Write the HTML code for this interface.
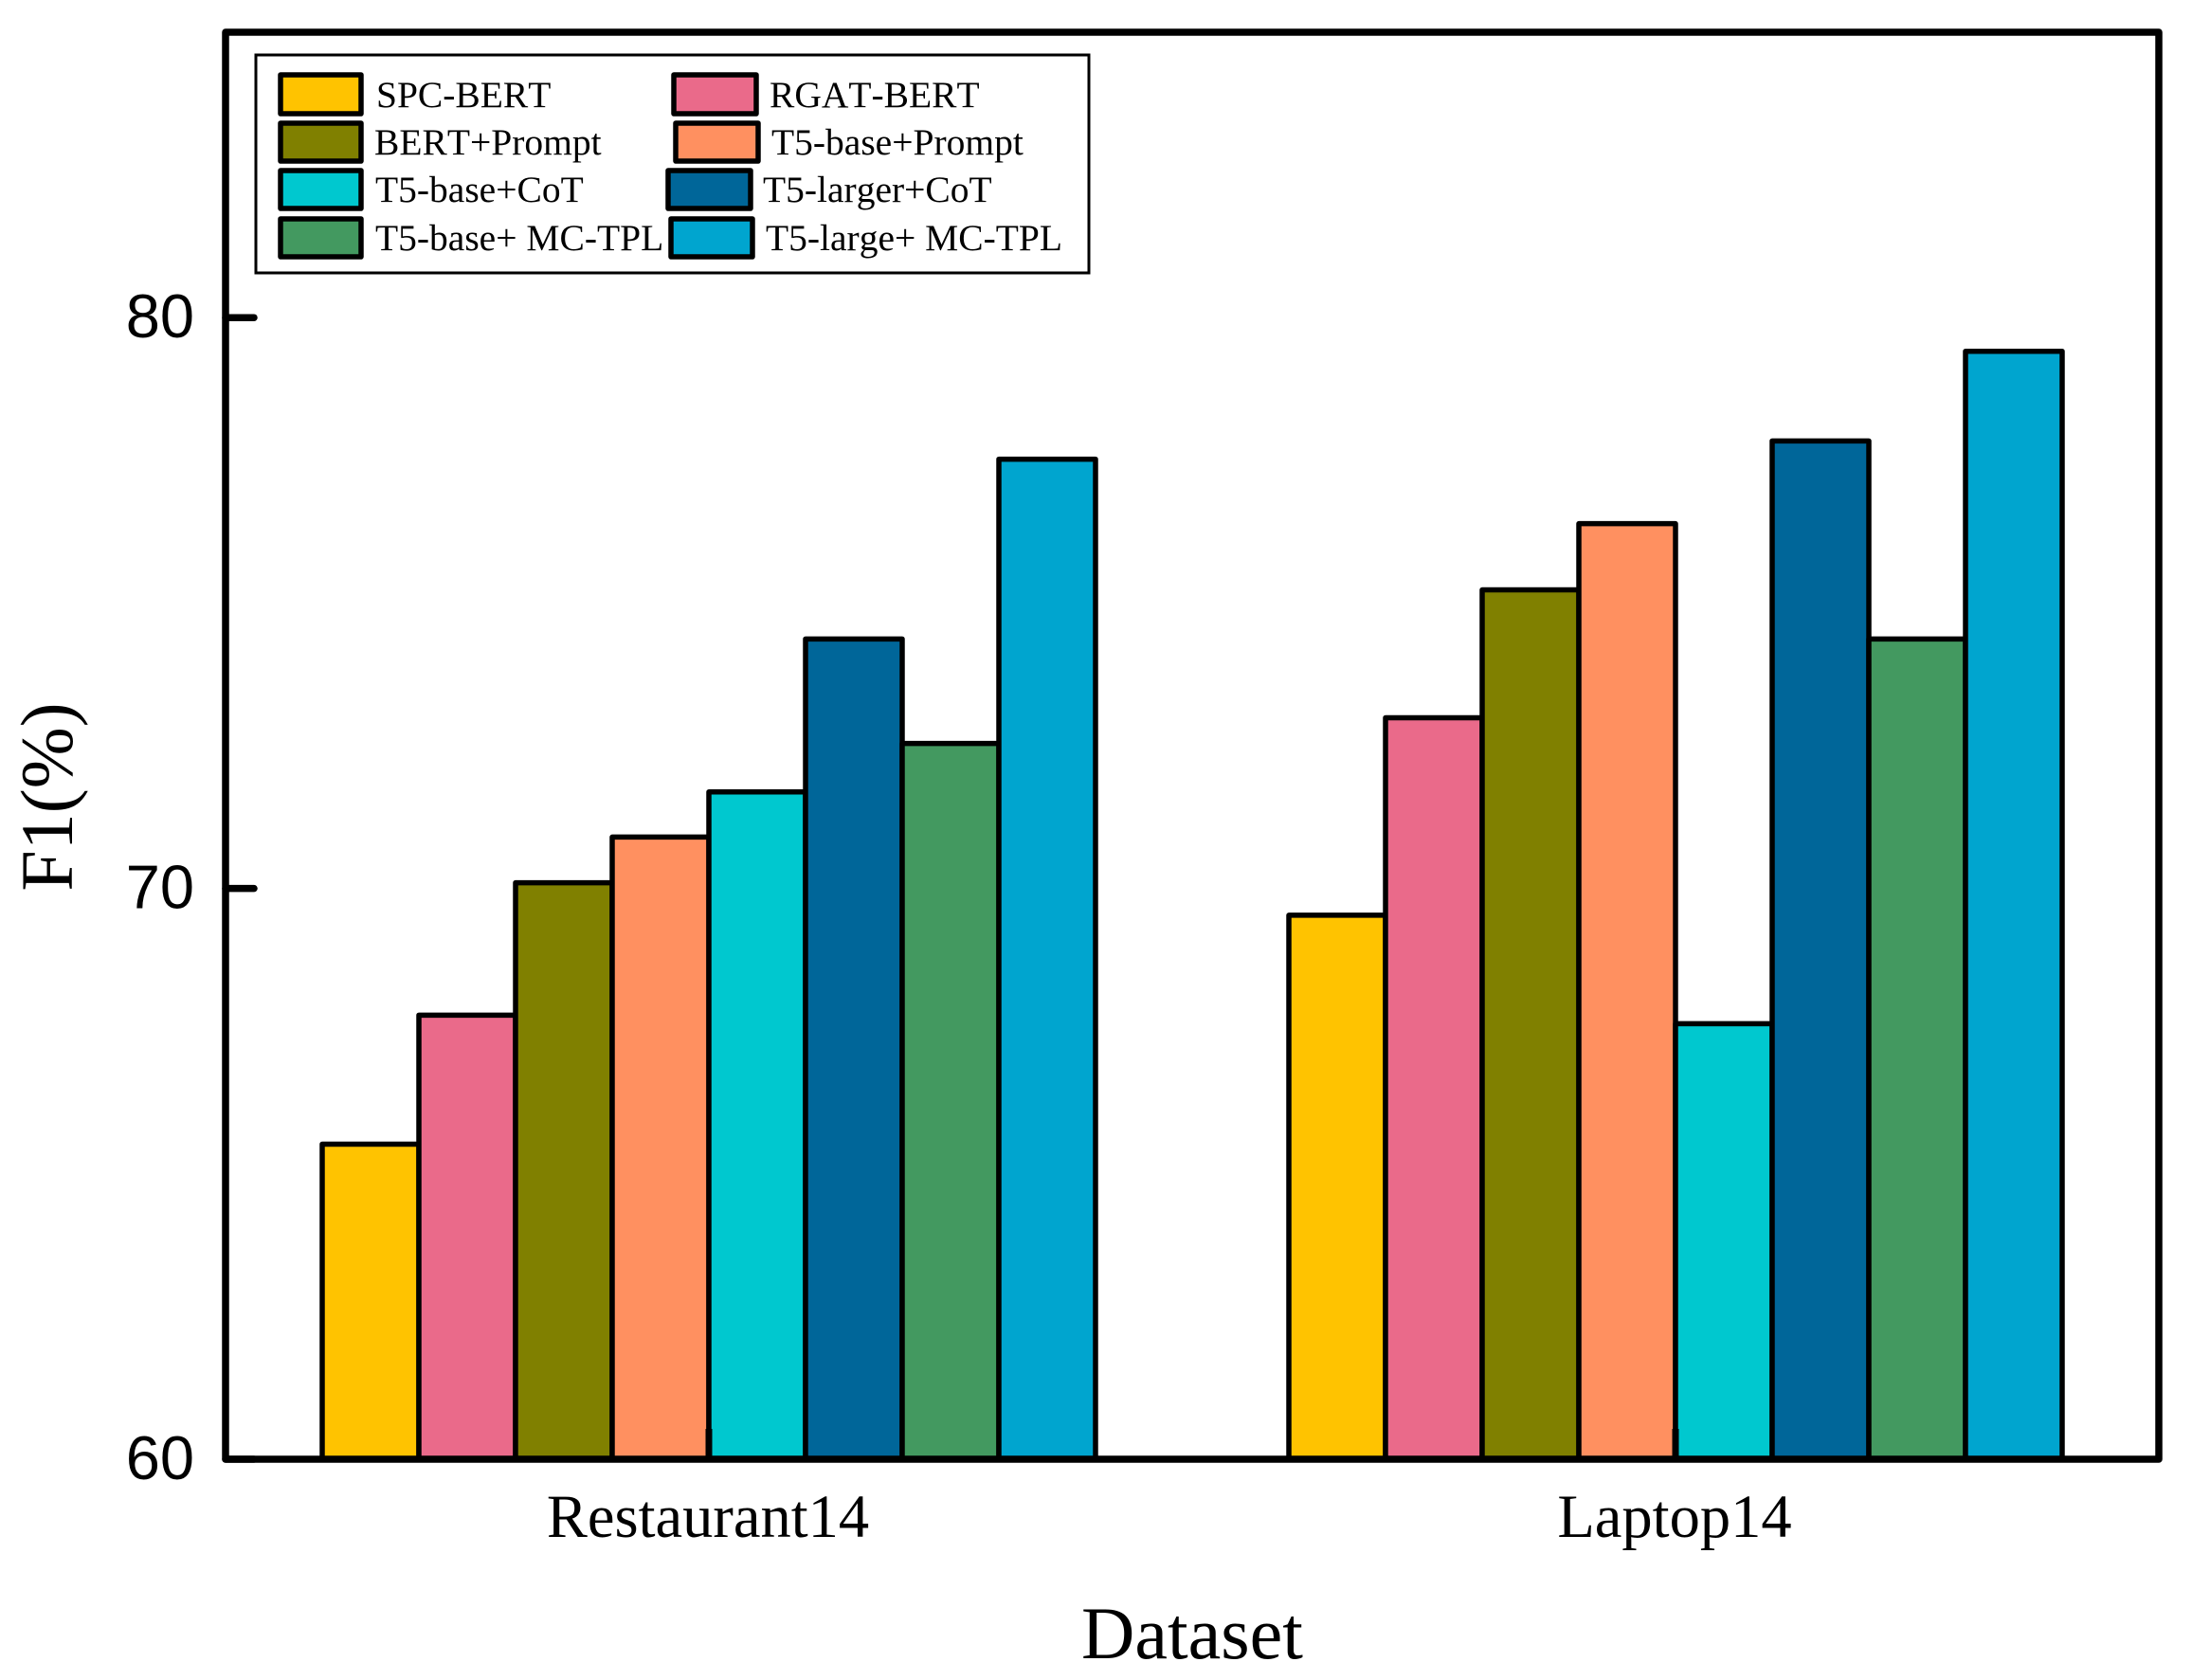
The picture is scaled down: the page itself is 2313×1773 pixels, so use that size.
<!DOCTYPE html>
<html lang="en">
<head>
<meta charset="utf-8">
<title>F1 by dataset</title>
<style>
html,body{margin:0;padding:0;background:#fff;width:2313px;height:1773px;overflow:hidden}
svg{display:block}
text{fill:#000;font-kerning:none}
.serif{font-family:"Liberation Serif",serif}
.sans{font-family:"Liberation Sans",sans-serif}
.leg{font-family:"Liberation Serif",serif;font-size:39.5px}
.sw{stroke:#000;stroke-width:5.5px;stroke-linejoin:round}
</style>
</head>
<body>
<svg id="chart" xmlns="http://www.w3.org/2000/svg" width="2313" height="1773" viewBox="0 0 2313 1773">
  <rect x="0" y="0" width="2313" height="1773" fill="#fff"/>
  <g id="bars"></g>
  <rect x="238" y="34" width="2040" height="1506" fill="none" stroke="#000" stroke-width="7.5" stroke-linejoin="round"/>
  <g id="ticks"></g>
  <text class="serif" x="1258" y="1750" font-size="78" text-anchor="middle">Dataset</text>
  <text class="serif" transform="translate(76 841) rotate(-90)" font-size="78" text-anchor="middle">F1(%)</text>
  <g>
    <rect x="270" y="58" width="879" height="230" fill="#fff" stroke="#000" stroke-width="3"/>
    <g>
      <rect class="sw" x="296" y="79" width="85" height="41" fill="#FFC300"/>
      <text class="leg" x="397" y="113">SPC-BERT</text>
    </g>
    <g>
      <rect class="sw" x="711" y="79" width="87" height="41" fill="#EA6A8A"/>
      <text class="leg" x="812" y="113">RGAT-BERT</text>
    </g>
    <g>
      <rect class="sw" x="296" y="130" width="85" height="40" fill="#808000"/>
      <text class="leg" x="395" y="163">BERT+Prompt</text>
    </g>
    <g>
      <rect class="sw" x="713" y="130" width="87" height="40" fill="#FF9060"/>
      <text class="leg" x="814" y="163">T5-base+Prompt</text>
    </g>
    <g>
      <rect class="sw" x="296" y="180" width="85" height="40" fill="#00C8CF"/>
      <text class="leg" x="396" y="213">T5-base+CoT</text>
    </g>
    <g>
      <rect class="sw" x="705" y="180" width="87" height="40" fill="#006699"/>
      <text class="leg" x="805" y="213">T5-larger+CoT</text>
    </g>
    <g>
      <rect class="sw" x="296" y="231" width="85" height="40" fill="#439960"/>
      <text class="leg" x="396" y="264">T5-base+ MC-TPL</text>
    </g>
    <g>
      <rect class="sw" x="708" y="231" width="86" height="40" fill="#00A5CF"/>
      <text class="leg" x="808" y="264">T5-large+ MC-TPL</text>
    </g>
  </g>
</svg>
<script>
const categories = ['Restaurant14', 'Laptop14'];
const seriesNames = ['SPC-BERT', 'RGAT-BERT', 'BERT+Prompt', 'T5-base+Prompt', 'T5-base+CoT', 'T5-larger+CoT', 'T5-base+ MC-TPL', 'T5-large+ MC-TPL'];
const restaurantValues = [65.52, 67.78, 70.1, 70.9, 71.69, 74.37, 72.54, 77.52];
const laptopValues = [69.53, 72.99, 75.23, 76.39, 67.63, 77.84, 74.37, 79.41];
const yTicks = [60, 70, 80];
const seriesColors = ['#FFC300', '#EA6A8A', '#808000', '#FF9060', '#00C8CF', '#006699', '#439960', '#00A5CF'];

const NS = 'http://www.w3.org/2000/svg';
const plot = { left: 238, right: 2278, top: 34, bottom: 1540 };
const yMin = 60, yMax = 85;
const xMin = 0.5, xMax = 2.5;
const barFraction = 0.1;

function yScale(v) {
  return plot.bottom - (v - yMin) / (yMax - yMin) * (plot.bottom - plot.top);
}
function xScale(c) {
  return plot.left + (c - xMin) / (xMax - xMin) * (plot.right - plot.left);
}
function slug(s) {
  return s.toLowerCase().replace(/[^a-z0-9]+/g, '-');
}
function make(tag, attrs, parent) {
  const el = document.createElementNS(NS, tag);
  for (const k in attrs) el.setAttribute(k, attrs[k]);
  parent.appendChild(el);
  return el;
}

const barsLayer = document.getElementById('bars');
const ticksLayer = document.getElementById('ticks');
const valuesByCategory = [restaurantValues, laptopValues];

valuesByCategory.forEach(function (values, ci) {
  values.forEach(function (v, si) {
    const c = ci + 1;
    const n = values.length;
    const x0 = xScale(c - barFraction * n / 2 + barFraction * si);
    const x1 = xScale(c - barFraction * n / 2 + barFraction * (si + 1));
    const bar = make('rect', {
      x: x0,
      y: yScale(v),
      width: x1 - x0,
      height: yScale(yMin) - yScale(v),
      fill: seriesColors[si],
      stroke: '#000',
      'stroke-width': 5.5,
      'stroke-linejoin': 'round'
    }, barsLayer);
    
    
  });
});

yTicks.forEach(function (t) {
  const tick = make('line', {
    x1: plot.left,
    x2: plot.left + 30,
    y1: yScale(t),
    y2: yScale(t),
    stroke: '#000',
    'stroke-width': 7.5,
    'stroke-linecap': 'round'
  }, ticksLayer);
  
  
  const label = make('text', {
    x: 205,
    y: yScale(t) + 21,
    'font-size': 65,
    'text-anchor': 'end',
    class: 'sans'
  }, ticksLayer);
  label.textContent = String(t);
  
  
});

categories.forEach(function (name, ci) {
  const tx = xScale(ci + 1);
  const tick = make('line', {
    x1: tx,
    x2: tx,
    y1: plot.bottom,
    y2: plot.bottom - 32,
    stroke: '#000',
    'stroke-width': 7
  }, ticksLayer);
  
  
  const label = make('text', {
    x: tx - 1,
    y: 1622,
    'font-size': 64.5,
    'text-anchor': 'middle',
    class: 'serif'
  }, ticksLayer);
  label.textContent = name;
  
  
});
</script>
</body>
</html>
